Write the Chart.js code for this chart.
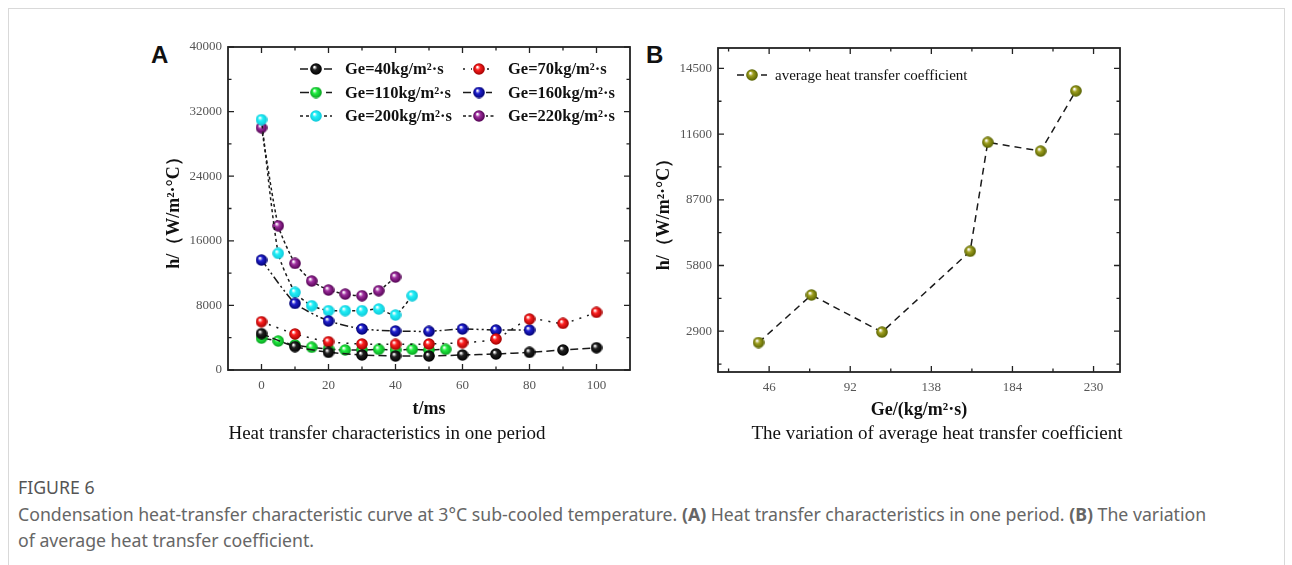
<html>
<head>
<meta charset="UTF-8">
<script src="https://cdn.jsdelivr.net/npm/chart.js@4.4.0/dist/chart.umd.min.js"></script>
<style>
body { margin:0; background:#fff; width:1292px; height:565px; overflow:hidden; position:relative; }
#frame { position:absolute; left:8px; top:8px; width:1275px; height:620px; border:1px solid #d9d9d9; }
.lab { position:absolute; font-family:"Liberation Sans", Arial, sans-serif; font-weight:bold; font-size:24px; color:#111; }
.sub { position:absolute; width:560px; text-align:center; font-family:"Liberation Serif", serif; font-size:19px; line-height:22px; color:#111; }
.cap { position:absolute; left:18px; font-family:"Noto Sans", sans-serif; font-size:17.7px; line-height:22px; color:#666; white-space:nowrap; }
canvas { position:absolute; }
</style>
</head>
<body>
<div id="frame"></div>
<div class="lab" style="left:151px;top:41px">A</div>
<div class="lab" style="left:646px;top:41px">B</div>
<canvas id="cA" width="520" height="400" style="left:130px;top:30px"></canvas>
<canvas id="cB" width="500" height="400" style="left:640px;top:30px"></canvas>
<div class="sub" style="left:107px;top:422px">Heat transfer characteristics in one period</div>
<div class="sub" style="left:657px;top:422px">The variation of average heat transfer coefficient</div>
<div class="cap" style="top:476px;color:#555">FIGURE 6</div>
<div class="cap" style="top:503px">Condensation heat-transfer characteristic curve at 3°C sub-cooled temperature. <b>(A)</b> Heat transfer characteristics in one period. <b>(B)</b> The variation</div>
<div class="cap" style="top:529px">of average heat transfer coefficient.</div>

<script>
// panel A: h vs t for each mass flux
var t40 = [0,10,20,30,40,50,60,70,80,90,100];
var h40 = [4500,2890,2190,1860,1730,1730,1860,1980,2190,2480,2760];
var t70 = [0,10,20,30,40,50,60,70,80,90,100];
var h70 = [5980,4460,3500,3220,3180,3220,3380,3840,6310,5780,7140];
var t110 = [0,5,10,15,20,25,30,35,40,45,50,55];
var h110 = [3950,3590,3100,2810,2600,2480,2480,2560,2480,2560,2480,2560];
var t160 = [0,10,20,30,40,50,60,70,80];
var h160 = [13620,8250,6070,5080,4830,4790,5080,4950,4950];
var t200 = [0,5,10,15,20,25,30,35,40,45];
var h200 = [31000,14440,9620,7960,7350,7350,7350,7550,6810,9200];
var t220 = [0,5,10,15,20,25,30,35,40];
var h220 = [30000,17860,13200,11020,9900,9400,9200,9820,11510];

var xTicksA = [0,20,40,60,80,100];
var xMinorA = [10,30,50,70,90];
var yTicksA = [0,8000,16000,24000,32000,40000];
var yMinorA = [4000,12000,20000,28000,36000];

// panel B: average coefficient vs Ge
var ge = [40,70,110,160,170,200,220];
var hAvg = [2400,4500,2860,6430,11240,10850,13510];

var xTicksB = [46,92,138,184,230];
var xMinorB = [23,69,115,161,207];
var yTicksB = [2900,5800,8700,11600,14500];
var yMinorB = [1450,4350,7250,10150,13050];

function sphere(col, dark) {
	var r = 5.8, c = document.createElement('canvas');
	c.width = 12; c.height = 12;
	var g = c.getContext('2d');
	var gr = g.createRadialGradient(4.3, 4.0, 0.5, 6, 6, r);
	gr.addColorStop(0, '#ffffff');
	gr.addColorStop(0.35, col);
	gr.addColorStop(1, dark);
	g.fillStyle = gr;
	g.beginPath(); g.arc(6, 6, r, 0, Math.PI*2); g.fill();
	return c;
}

function pts(xs, ys) { return xs.map(function(v, i){ return {x: v, y: ys[i]}; }); }

function series(label, xs, ys, col, dark, dash) {
	return {
		label: label, data: pts(xs, ys),
		borderColor: '#1a1a1a', borderWidth: 1.5, borderDash: dash,
		pointStyle: sphere(col, dark), pointRadius: 6, tension: 0.2, fill: false
	};
}

var framePlugin = {
	id: 'frame',
	afterDatasetsDraw: function(chart, args, o) {
		var ctx = chart.ctx, a = chart.chartArea, x = chart.scales.x, y = chart.scales.y;
		ctx.save();
		ctx.setLineDash([]);
		ctx.strokeStyle = '#222';
		ctx.lineWidth = 1.8;
		ctx.strokeRect(a.left, a.top, a.right - a.left, a.bottom - a.top);
		ctx.lineWidth = 1.3;
		function xt(vals, len) {
			vals.forEach(function(v){
				var p = x.getPixelForValue(v);
				ctx.beginPath();
				ctx.moveTo(p, a.bottom); ctx.lineTo(p, a.bottom - len);
				ctx.moveTo(p, a.top); ctx.lineTo(p, a.top + len);
				ctx.stroke();
			});
		}
		function yt(vals, len) {
			vals.forEach(function(v){
				var p = y.getPixelForValue(v);
				ctx.beginPath();
				ctx.moveTo(a.left, p); ctx.lineTo(a.left + len, p);
				ctx.moveTo(a.right, p); ctx.lineTo(a.right - len, p);
				ctx.stroke();
			});
		}
		xt(o.xMajor, 6); xt(o.xMinor, 3.5);
		yt(o.yMajor, 6); yt(o.yMinor, 3.5);
		ctx.restore();
	}
};

var legendPlugin = {
	id: 'keybox',
	afterDraw: function(chart, args, o) {
		if (!o.show) return;
		var ctx = chart.ctx, a = chart.chartArea;
		ctx.save();
		chart.data.datasets.forEach(function(ds, i){
			var col = i % o.cols, row = Math.floor(i / o.cols);
			var sx = a.left + o.x + col * o.colW;
			var sy = a.top + o.y + row * o.rowH;
			ctx.strokeStyle = ds.borderColor;
			ctx.lineWidth = 1.5;
			ctx.setLineDash(ds.borderDash);
			ctx.beginPath(); ctx.moveTo(sx, sy); ctx.lineTo(sx + o.len, sy); ctx.stroke();
			ctx.setLineDash([]);
			var im = ds.pointStyle;
			ctx.fillStyle = '#fff';
			ctx.fillRect(sx + o.len/2 - 7, sy - 6, 14, 12);
			ctx.drawImage(im, sx + o.len/2 - 6, sy - 6);
			ctx.fillStyle = '#111';
			ctx.font = o.font;
			ctx.textBaseline = 'middle';
			ctx.fillText(ds.label, sx + o.tx, sy + 1);
		});
		ctx.restore();
	}
};

var tickFont = {family: 'Liberation Serif', size: 13};
var titleFont = {family: 'Liberation Serif', size: 18, weight: 'bold'};
function plain(v) { return String(v); }

new Chart(document.getElementById('cA').getContext('2d'), {
	type: 'line',
	data: {
		datasets: [
			series('Ge=40kg/m²·s', t40, h40, '#222222', '#000000', [8, 4]),
			series('Ge=70kg/m²·s', t70, h70, '#ff2020', '#a00000', [2, 6]),
			series('Ge=110kg/m²·s', t110, h110, '#20ee40', '#08a020', [10, 3]),
			series('Ge=160kg/m²·s', t160, h160, '#2020d0', '#000070', [8, 3, 2, 3, 2, 3]),
			series('Ge=200kg/m²·s', t200, h200, '#20f0f8', '#10c8d8', [3, 3]),
			series('Ge=220kg/m²·s', t220, h220, '#a030a0', '#500050', [3, 2.5])
		]
	},
	plugins: [framePlugin, legendPlugin],
	options: {
		responsive: false, animation: false,
		layout: {padding: {left: 0, right: 20, top: 17, bottom: 0}},
		plugins: {
			legend: {display: false}, tooltip: {enabled: false},
			frame: {xMajor: xTicksA, xMinor: xMinorA, yMajor: yTicksA, yMinor: yMinorA},
			keybox: {show: true, x: 72, y: 22, cols: 2, colW: 163, rowH: 23.5, len: 32, tx: 45,
				font: 'bold 16.5px "Liberation Serif"'}
		},
		scales: {
			x: {
				type: 'linear', min: -10, max: 110,
				afterBuildTicks: function(s){ s.ticks = xTicksA.map(function(v){ return {value: v}; }); },
				afterFit: function(s){ s.height = 60; },
				grid: {display: false, drawTicks: false}, border: {display: false},
				ticks: {padding: 8, color: '#555', font: tickFont, maxRotation: 0, callback: plain},
				title: {display: true, text: 't/ms', color: '#111', font: titleFont, padding: {top: 0, bottom: 10}}
			},
			y: {
				type: 'linear', min: 0, max: 40000,
				afterBuildTicks: function(s){ s.ticks = yTicksA.map(function(v){ return {value: v}; }); },
				afterFit: function(s){ s.width = 98; },
				grid: {display: false, drawTicks: false}, border: {display: false},
				ticks: {padding: 6, color: '#555', font: tickFont, callback: plain},
				title: {display: true, text: 'h/（W/m²·°C）', color: '#111', font: titleFont, padding: {top: 34, bottom: 0}}
			}
		}
	}
});

var dsB = series('average heat transfer coefficient', ge, hAvg, '#a0a020', '#556000', [7, 5]);
dsB.tension = 0;

new Chart(document.getElementById('cB').getContext('2d'), {
	type: 'line',
	data: {datasets: [dsB]},
	plugins: [framePlugin, legendPlugin],
	options: {
		responsive: false, animation: false,
		layout: {padding: {left: 0, right: 20, top: 18, bottom: 0}},
		plugins: {
			legend: {display: false}, tooltip: {enabled: false},
			frame: {xMajor: xTicksB, xMinor: xMinorB, yMajor: yTicksB, yMinor: yMinorB},
			keybox: {show: true, x: 19, y: 27, cols: 1, colW: 0, rowH: 0, len: 30, tx: 38,
				font: '15px "Liberation Serif"'}
		},
		scales: {
			x: {
				type: 'linear', min: 17, max: 245,
				afterBuildTicks: function(s){ s.ticks = xTicksB.map(function(v){ return {value: v}; }); },
				afterFit: function(s){ s.height = 58; },
				grid: {display: false, drawTicks: false}, border: {display: false},
				ticks: {padding: 8, color: '#555', font: tickFont, maxRotation: 0, callback: plain},
				title: {display: true, text: 'Ge/(kg/m²·s)', color: '#111', font: titleFont, padding: {top: 0, bottom: 9}}
			},
			y: {
				type: 'linear', min: 1100, max: 15400,
				afterBuildTicks: function(s){ s.ticks = yTicksB.map(function(v){ return {value: v}; }); },
				afterFit: function(s){ s.width = 78; },
				grid: {display: false, drawTicks: false}, border: {display: false},
				ticks: {padding: 6, color: '#555', font: tickFont, callback: plain},
				title: {display: true, text: 'h/（W/m²·°C）', color: '#111', font: titleFont, padding: {top: 14, bottom: 0}}
			}
		}
	}
});
</script>
</body>
</html>
